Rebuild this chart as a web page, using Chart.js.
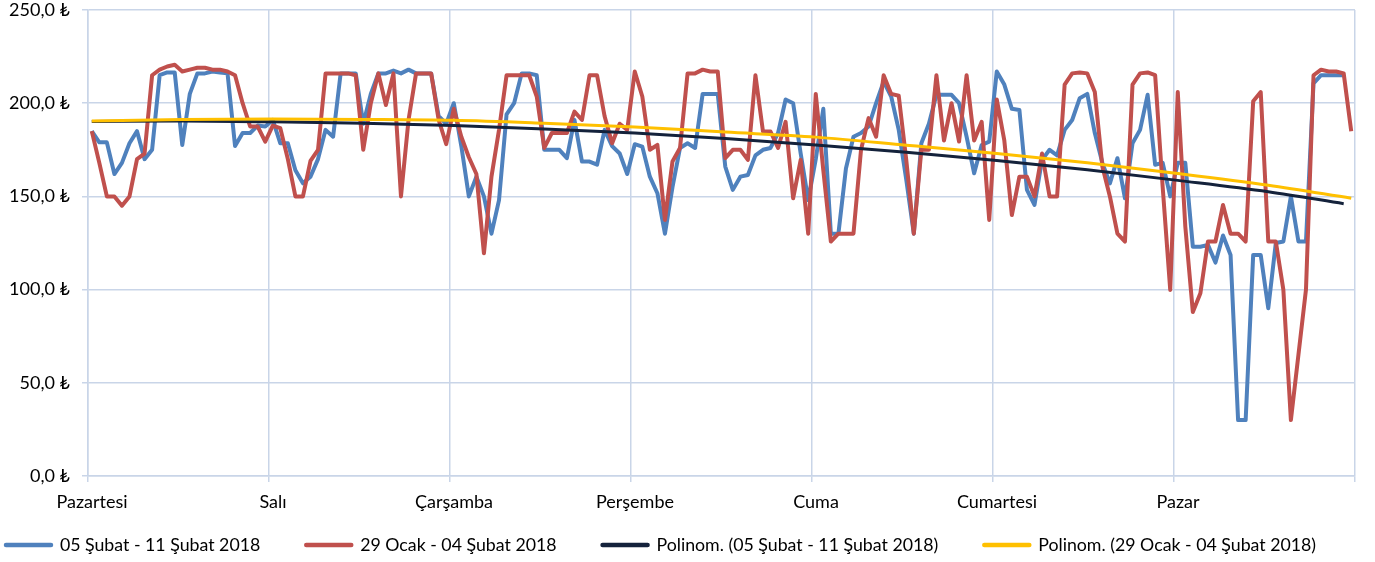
<!DOCTYPE html>
<html>
<head>
<meta charset="utf-8">
<script src="https://cdn.jsdelivr.net/npm/chart.js@4/dist/chart.umd.min.js"></script>
<style>
html,body{margin:0;padding:0;background:#ffffff;}
#wrap{width:1375px;height:562px;}
</style>
</head>
<body>
<div id="wrap"><canvas id="c" width="1375" height="562"></canvas></div>
<script>
// ---- data ----
const days = ["Pazartesi", "Salı", "Çarşamba", "Perşembe", "Cuma", "Cumartesi", "Pazar"];
const seriesNames = ["05 Şubat - 11 Şubat 2018", "29 Ocak - 04 Şubat 2018",
  "Polinom. (05 Şubat - 11 Şubat 2018)", "Polinom. (29 Ocak - 04 Şubat 2018)"];
const yTicks = [0, 50, 100, 150, 200, 250];

// hourly values, week of 05-11 Feb 2018 (last hour missing)
const week0511Feb = [
  185,179,179,162,168,178.5,185,170,175,215,216.5,216.5,177.6,205,216,216,217,216.5,216,177,184,184,188,187.5,
  191,178.5,178.5,164,157,160.6,170,185.7,182,216,216,216,189,205,216,216,217.5,216,218,216,216,216,193,189,
  200,177,150,160.6,150,130,148,194,200,216,216,215,175,175,175,170.5,191,168.7,168.7,167,185.7,177,173,162,
  178,176.7,160.6,151.7,130,155,176,178.5,176,205,205,205,166,153.5,160.6,161.5,172,175,176,184,202,200,173,148,
  170,197,130,130,165,182,184,187.5,200,211.6,203.6,185.7,159,130,178.5,189,204.5,204.5,204.5,200,182,162.4,177.6,179.4,
  217,210,197,196.4,153.5,145.4,169.6,175,172,185.7,191,202.7,205,184,168,157,170.5,149,178.5,185.7,204.5,167,168,150,
  168,168,123,123,124,114.5,129,118.6,30,30,118.6,118.6,90,125,125.8,150,125.8,125.8,210.7,215,215,215,215
];
// hourly values, week of 29 Jan - 04 Feb 2018
const week29Jan04Feb = [
  185,168,150,150,145,150,170,173,215,218,219.7,220.6,217,218,219,219,218,218,217,215,200,187.5,187.5,179.4,
  188,186.6,170,150,150,169,175,216,216,216,216,215,175,200,216,199,216,150,191,216,216,216,191,178,
  197,182,171,162,119.5,160.6,185.7,215,215,215,215,203.6,176,184,184,184,195.5,191,215,215,193,178.5,189,185.7,
  217,203.6,175,177.6,137.4,168.7,176,216,216,218,217,217,170.5,175,175,169.6,215,184.8,184.8,176,190,149,169.6,130,
  205,164,125.8,130,130,130,175,192,182,215,205,204,169.6,130,175,175,215,180,200,179.4,215,180,190,137.4,
  202,180,140,160.6,160.6,150,173,150,150,210,216,216.5,216,206,166,150,130,125.8,210,216,216.5,215,155,99.8,
  206,133.8,88,98,125.8,125.8,145.4,130,130,125.8,201,206,125.8,125.8,100,30,65,100,215,218,217,217,216,185
];
// polynomial trend lines, read at sample hours
const trendHours0511 = [0,12,24,36,48,60,72,84,96,108,120,132,144,156,166];
const trend0511 = [190.2,190.4,190.0,189.3,188.0,186.2,184.0,181.0,177.6,173.7,169.3,164.3,158.6,152.5,146.1];
const trendHours2904 = [0,12,24,36,48,60,72,84,96,108,120,132,144,156,167];
const trend2904 = [190.5,191.2,191.5,191.3,190.8,189.2,187.2,184.5,181.8,177.5,173.0,168.0,162.3,156.0,149.0];

// ---- chart ----
const FONT = "Lato, 'DejaVu Sans', sans-serif";
const GRID = '#C9D5E8';
const toPts = arr => arr.map((v, i) => ({x: i + 0.5, y: v}));
const toTrend = (hours, vals) => hours.map((h, k) => ({x: h + 0.5, y: vals[k]}));

const legendFix = {
  id: 'legendFix',
  afterLayout(chart) {
    const lg = chart.legend;
    const pad = lg.options.labels.padding;
    lg.left = 6 - pad;
    lg.right = 1500;
    lg.top = 536 - pad;
  }
};

new Chart(document.getElementById('c'), {
  type: 'line',
  data: {
    datasets: [
      {label: seriesNames[0], data: toPts(week0511Feb), borderColor: '#4F81BD', backgroundColor: '#4F81BD',
        borderWidth: 4, pointRadius: 0, tension: 0, order: 4, borderJoinStyle: 'round'},
      {label: seriesNames[1], data: toPts(week29Jan04Feb), borderColor: '#C0504D', backgroundColor: '#C0504D',
        borderWidth: 4, pointRadius: 0, tension: 0, order: 3, borderJoinStyle: 'round'},
      {label: seriesNames[2], data: toTrend(trendHours0511, trend0511), borderColor: '#14223B', backgroundColor: '#14223B',
        borderWidth: 3, pointRadius: 0, cubicInterpolationMode: 'monotone', order: 2},
      {label: seriesNames[3], data: toTrend(trendHours2904, trend2904), borderColor: '#FFC000', backgroundColor: '#FFC000',
        borderWidth: 3, pointRadius: 0, cubicInterpolationMode: 'monotone', order: 1}
    ]
  },
  options: {
    responsive: false,
    animation: false,
    devicePixelRatio: 1,
    layout: {padding: {top: 10, right: 20, bottom: 0, left: 0}},
    plugins: {
      tooltip: {enabled: false},
      legend: {
        position: 'bottom',
        align: 'start',
        maxHeight: 40,
        labels: {
          font: {family: FONT, size: 17.75},
          color: '#000',
          padding: 46,
          usePointStyle: true,
          pointStyleWidth: 45,
          generateLabels: chart => chart.data.datasets.map((ds, i) => ({
            text: ds.label, fillStyle: ds.borderColor, strokeStyle: ds.borderColor,
            lineWidth: 4.5, lineCap: 'round', pointStyle: 'line', hidden: false,
            datasetIndex: i, fontColor: '#000'
          }))
        }
      }
    },
    scales: {
      x: {
        type: 'linear', min: 0, max: 168,
        afterFit: s => { s.height = 46; s.paddingLeft = 0; s.paddingRight = 0; },
        ticks: {
          stepSize: 24, autoSkip: false, maxRotation: 0, padding: 9, labelOffset: 4,
          color: '#000', font: {family: FONT, size: 18},
          callback: v => (v % 24 === 0 && days[v / 24]) ? days[v / 24] : ''
        },
        grid: {color: GRID, lineWidth: 1.5, tickLength: 6},
        border: {color: GRID, width: 1.5}
      },
      y: {
        min: 0, max: 250,
        afterFit: s => { s.width = 88; s.paddingTop = 0; s.paddingBottom = 0; },
        afterBuildTicks: s => { s.ticks = yTicks.map(v => ({value: v})); },
        ticks: {
          padding: 12, color: '#000', font: {family: FONT, size: 18},
          callback: v => v.toFixed(1).replace('.', ',') + ' ₺'
        },
        grid: {color: GRID, lineWidth: 1.5, tickLength: 6},
        border: {color: GRID, width: 1.5}
      }
    }
  },
  plugins: [legendFix]
});
</script>
</body>
</html>
